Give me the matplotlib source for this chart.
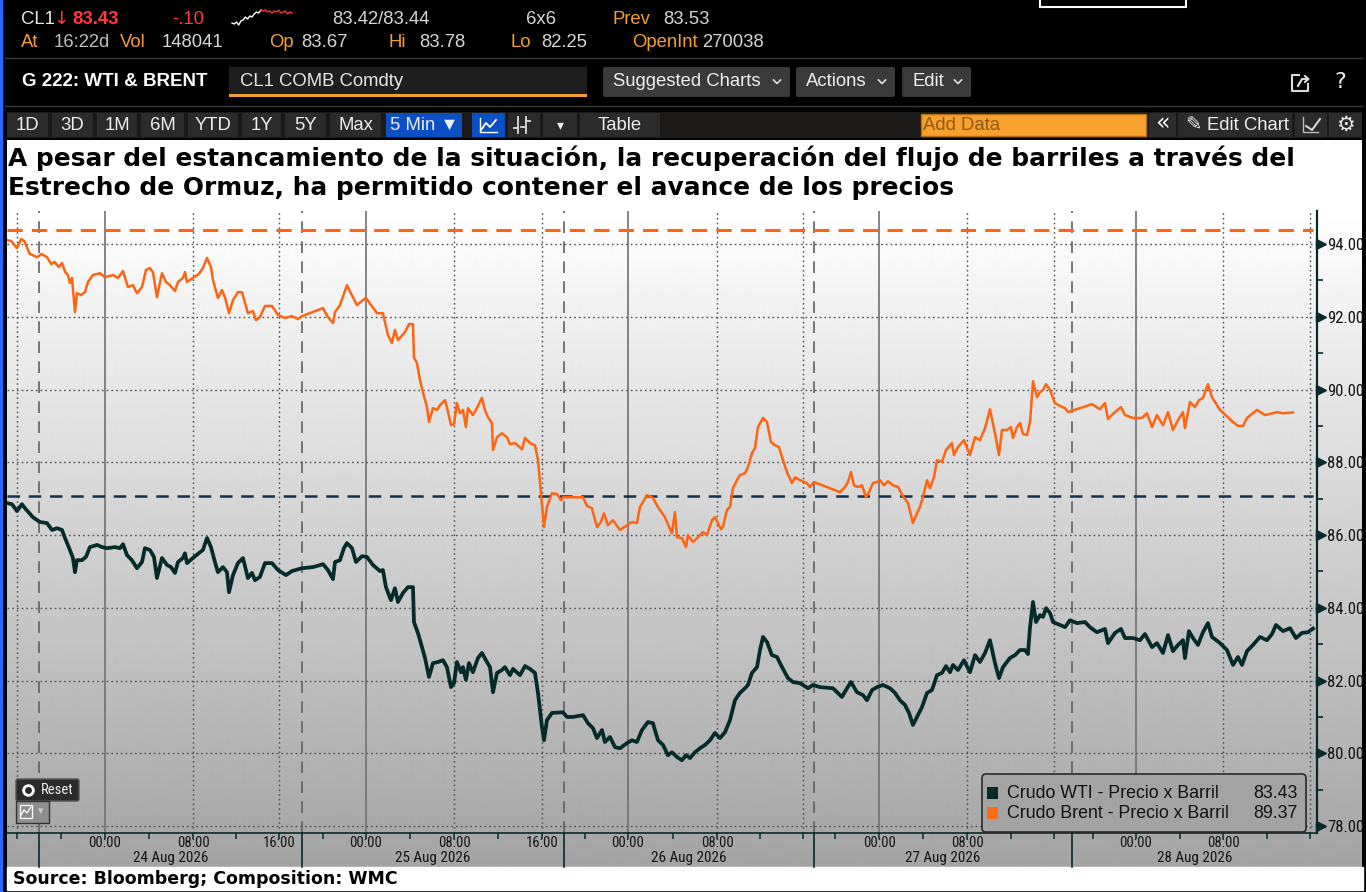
import numpy as np
import matplotlib
matplotlib.use('Agg')
import matplotlib.pyplot as plt
from matplotlib import font_manager as fm
from matplotlib.patches import Rectangle, FancyBboxPatch
import matplotlib.transforms as mtransforms

# ---------------- DATA ----------------
# x = position on the trading-time axis, in hours from 24 Aug 2026 00:00
brent = [(-9.1, 94.11), (-8.7, 94.08), (-8.2, 93.89), (-7.8, 94.14), (-7.5, 94.08), (-7.0, 93.73), (-6.3, 93.64),
         (-5.9, 93.73), (-5.4, 93.64), (-5.0, 93.45), (-4.7, 93.51), (-4.3, 93.37), (-4.0, 93.48), (-3.7, 93.23),
         (-3.45, 93.15), (-3.26, 92.93), (-3.07, 93.07), (-2.79, 92.13), (-2.61, 92.65), (-2.23, 92.60), (-1.86, 92.68),
         (-1.58, 92.96), (-1.12, 93.15), (-0.47, 93.20), (0.0, 93.09), (0.74, 93.15), (1.21, 93.07), (1.68, 93.26),
         (2.14, 92.82), (2.61, 92.87), (2.98, 92.65), (3.45, 92.82), (3.82, 93.29), (4.19, 93.34), (4.47, 93.23),
         (4.84, 92.54), (5.31, 93.20), (5.68, 92.96), (6.05, 92.87), (6.52, 92.71), (6.80, 92.96), (7.26, 93.07),
         (7.45, 93.23), (7.64, 92.96), (8.19, 93.07), (8.75, 93.18), (9.12, 93.34), (9.50, 93.62), (9.87, 93.37),
         (10.06, 93.01), (10.52, 92.52), (10.89, 92.74), (11.17, 92.54), (11.55, 92.10), (11.92, 92.46), (12.38, 92.68),
         (12.76, 92.68), (13.31, 92.10), (13.78, 92.16), (14.06, 91.91), (14.43, 91.99), (14.90, 92.30), (15.55, 92.30),
         (16.11, 92.05), (16.76, 91.97), (17.41, 92.02), (17.97, 91.94), (18.34, 92.02), (20.30, 92.24), (20.76, 91.99),
         (21.23, 91.83), (21.42, 92.13), (21.88, 92.32), (22.53, 92.87), (23.46, 92.32), (24.02, 92.46), (24.30, 92.52),
         (25.33, 92.10), (25.88, 92.10), (26.35, 91.50), (26.72, 91.28), (27.00, 91.64), (27.28, 91.36), (27.93, 91.58),
         (28.31, 91.80), (28.68, 91.80), (28.77, 90.89), (29.05, 90.73), (29.33, 90.26), (29.61, 89.93), (29.98, 89.52),
         (30.17, 89.11), (30.54, 89.49), (30.91, 89.44), (31.19, 89.57), (31.66, 89.71), (31.84, 89.52), (32.22, 89.02),
         (32.50, 89.05), (32.77, 89.63), (33.05, 89.35), (33.33, 89.44), (33.61, 88.97), (33.80, 89.49), (34.26, 89.30),
         (34.64, 89.49), (35.10, 89.77), (35.38, 89.44), (35.66, 89.24), (36.03, 89.08), (36.13, 88.34), (36.50, 88.69),
         (36.96, 88.80), (37.43, 88.69), (37.71, 88.50), (38.18, 88.53), (38.83, 88.36), (39.11, 88.67), (39.57, 88.53),
         (40.04, 88.47), (40.32, 88.06), (40.60, 87.15), (40.88, 86.22), (41.15, 86.77), (41.62, 87.15), (42.09, 87.13),
         (42.46, 86.96), (42.64, 87.04), (44.51, 87.04), (44.88, 86.80), (45.34, 86.74), (45.81, 86.22), (46.18, 86.36),
         (46.46, 86.60), (46.83, 86.27), (47.30, 86.41), (47.95, 86.14), (48.60, 86.27), (49.07, 86.36), (49.53, 86.33),
         (49.81, 86.77), (50.47, 87.10), (51.02, 87.02), (51.49, 86.77), (52.14, 86.49), (52.79, 86.05), (53.07, 86.63),
         (53.26, 85.94), (53.72, 85.92), (54.10, 85.67), (54.28, 86.00), (54.75, 85.81), (55.21, 85.94), (55.68, 86.08),
         (56.05, 86.00), (56.52, 86.41), (56.80, 86.49), (57.36, 86.16), (57.54, 86.22), (57.91, 86.69), (58.19, 86.77),
         (58.47, 87.29), (58.85, 87.51), (59.12, 87.65), (59.59, 87.70), (59.87, 87.87), (60.24, 88.25), (60.52, 88.39),
         (60.80, 88.97), (61.27, 89.22), (61.64, 89.11), (62.01, 88.56), (62.38, 88.47), (62.76, 88.42), (63.13, 88.06),
         (63.50, 87.73), (63.97, 87.43), (64.25, 87.59), (64.71, 87.51), (65.36, 87.43), (65.64, 87.32), (66.01, 87.46),
         (68.44, 87.18), (68.90, 87.32), (69.18, 87.46), (69.46, 87.73), (69.74, 87.37), (70.11, 87.32), (70.48, 87.37),
         (70.86, 87.04), (71.14, 87.18), (71.51, 87.43), (71.88, 87.46), (72.16, 87.51), (72.53, 87.37), (72.91, 87.48),
         (73.37, 87.37), (73.84, 87.32), (74.30, 87.07), (74.77, 86.88), (75.23, 86.33), (75.61, 86.60), (75.88, 86.77),
         (76.16, 87.04), (76.54, 87.51), (76.82, 87.29), (77.19, 87.59), (77.47, 88.06), (77.93, 88.01), (78.31, 88.34),
         (78.86, 88.53), (79.05, 88.20), (79.42, 88.42), (79.98, 88.61), (80.54, 88.20), (81.01, 88.69), (81.47, 88.61),
         (81.94, 88.94), (82.40, 89.46), (82.87, 88.80), (83.24, 88.20), (83.52, 88.89), (83.99, 88.89), (84.36, 88.97),
         (84.54, 88.67), (84.92, 88.97), (85.20, 89.08), (85.47, 88.78), (85.85, 88.75), (86.13, 89.11), (86.41, 90.23),
         (86.78, 89.79), (87.06, 89.93), (87.34, 89.99), (87.62, 90.15), (87.99, 89.99), (88.45, 89.63), (88.92, 89.55),
         (89.39, 89.49), (89.67, 89.38), (91.90, 89.60), (92.64, 89.46), (93.11, 89.63), (93.39, 89.19), (93.85, 89.33),
         (94.60, 89.52), (94.97, 89.30), (95.72, 89.22), (96.55, 89.22), (97.02, 89.35), (97.49, 88.97), (97.95, 89.30),
         (98.51, 89.02), (98.98, 89.38), (99.44, 88.89), (99.91, 89.16), (100.37, 89.38), (100.56, 88.94), (101.02, 89.66),
         (101.49, 89.52), (101.86, 89.71), (102.23, 89.77), (102.70, 90.15), (103.07, 89.79), (103.82, 89.44),
         (104.56, 89.24), (105.03, 89.11), (105.49, 89.00), (105.96, 89.00), (106.33, 89.22), (107.26, 89.44),
         (108.01, 89.30), (109.12, 89.38), (109.68, 89.35), (110.61, 89.37)]

wti = [(-9.12, 86.88), (-8.66, 86.85), (-8.19, 86.66), (-7.73, 86.85), (-7.45, 86.74), (-6.70, 86.49), (-6.05, 86.36),
       (-5.40, 86.33), (-4.93, 86.14), (-4.47, 86.19), (-4.00, 86.14), (-3.72, 85.92), (-3.26, 85.59), (-2.98, 85.37),
       (-2.79, 84.98), (-2.61, 85.31), (-2.14, 85.31), (-1.77, 85.40), (-1.40, 85.67), (-0.74, 85.73), (-0.28, 85.67),
       (0.19, 85.64), (0.93, 85.67), (1.40, 85.64), (1.68, 85.75), (2.05, 85.45), (2.51, 85.31), (2.98, 85.09),
       (3.45, 85.26), (3.72, 85.64), (4.19, 85.59), (4.56, 85.40), (4.84, 84.82), (5.31, 85.37), (5.77, 85.18),
       (6.15, 85.12), (6.52, 84.96), (6.80, 85.26), (7.26, 85.37), (7.45, 85.50), (7.64, 85.23), (8.19, 85.37),
       (8.85, 85.53), (9.12, 85.59), (9.50, 85.92), (9.87, 85.67), (10.24, 85.26), (10.52, 84.98), (10.99, 85.12),
       (11.36, 84.98), (11.55, 84.43), (11.92, 84.90), (12.38, 85.23), (12.85, 85.37), (13.31, 84.82), (13.69, 84.96),
       (13.97, 84.76), (14.43, 84.85), (14.90, 85.23), (15.55, 85.23), (16.11, 85.04), (16.85, 84.90), (17.41, 85.01),
       (18.34, 85.09), (19.37, 85.12), (20.30, 85.20), (20.76, 85.04), (21.23, 84.79), (21.42, 85.26), (21.88, 85.31),
       (22.25, 85.64), (22.53, 85.78), (23.00, 85.64), (23.37, 85.26), (23.93, 85.42), (24.39, 85.40), (24.95, 85.18),
       (25.61, 85.01), (25.88, 85.04), (26.16, 84.57), (26.63, 84.21), (27.00, 84.54), (27.28, 84.16), (27.75, 84.41),
       (28.21, 84.57), (28.68, 84.57), (28.77, 83.61), (29.14, 83.31), (29.52, 82.92), (29.80, 82.62), (30.17, 82.10),
       (30.54, 82.48), (31.01, 82.51), (31.47, 82.56), (31.84, 82.37), (32.22, 81.82), (32.50, 81.93), (32.77, 82.51),
       (33.15, 82.23), (33.33, 82.37), (33.61, 82.02), (33.89, 82.48), (34.26, 82.23), (34.73, 82.62), (35.10, 82.76),
       (35.47, 82.56), (35.85, 82.37), (36.13, 81.68), (36.50, 82.21), (36.96, 82.29), (37.24, 82.37), (37.71, 82.15),
       (37.99, 82.32), (38.64, 82.15), (39.11, 82.40), (39.57, 82.32), (40.04, 82.21), (40.32, 81.66), (40.69, 80.72),
       (40.88, 80.36), (41.15, 80.91), (41.62, 81.11), (42.64, 81.13), (43.02, 81.00), (43.58, 81.00), (44.51, 81.05),
       (44.97, 80.83), (45.44, 80.69), (45.81, 80.42), (46.28, 80.64), (46.55, 80.31), (47.02, 80.45), (47.49, 80.17),
       (47.95, 80.14), (48.60, 80.28), (49.07, 80.36), (49.53, 80.31), (50.00, 80.64), (50.56, 80.86), (51.02, 80.83),
       (51.49, 80.36), (51.96, 80.23), (52.42, 79.95), (52.79, 80.03), (53.26, 79.90), (53.72, 79.81), (54.10, 79.95),
       (54.47, 79.87), (54.93, 80.03), (55.40, 80.14), (55.87, 80.23), (56.33, 80.36), (56.80, 80.56), (57.26, 80.42),
       (57.73, 80.58), (58.19, 80.91), (58.66, 81.46), (59.12, 81.66), (59.59, 81.79), (59.87, 81.88), (60.24, 82.21),
       (60.71, 82.37), (60.99, 82.84), (61.27, 83.20), (61.64, 83.06), (62.10, 82.70), (62.57, 82.65), (63.04, 82.37),
       (63.59, 82.07), (64.06, 81.96), (64.71, 81.93), (65.46, 81.79), (65.92, 81.88), (66.57, 81.82), (67.78, 81.79),
       (68.62, 81.55), (69.09, 81.79), (69.46, 81.96), (70.02, 81.68), (70.58, 81.60), (70.95, 81.46), (71.42, 81.74),
       (71.88, 81.82), (72.44, 81.88), (73.09, 81.79), (73.56, 81.66), (74.02, 81.46), (74.49, 81.33), (74.86, 81.11),
       (75.23, 80.78), (75.61, 81.00), (76.07, 81.27), (76.54, 81.66), (77.00, 81.74), (77.47, 82.15), (77.93, 82.21),
       (78.31, 82.40), (78.68, 82.23), (78.96, 82.43), (79.42, 82.29), (79.98, 82.56), (80.54, 82.23), (81.01, 82.70),
       (81.47, 82.51), (81.94, 82.76), (82.40, 83.11), (82.87, 82.48), (83.24, 82.07), (83.61, 82.37), (84.26, 82.62),
       (84.73, 82.70), (85.20, 82.84), (85.66, 82.84), (85.94, 82.73), (86.13, 83.47), (86.41, 84.16), (86.69, 83.61),
       (87.06, 83.80), (87.34, 83.75), (87.62, 83.99), (87.99, 83.86), (88.27, 83.61), (88.92, 83.53), (89.39, 83.47),
       (89.85, 83.66), (90.50, 83.58), (91.25, 83.61), (91.71, 83.47), (92.36, 83.33), (93.11, 83.42), (93.39, 83.03),
       (94.04, 83.31), (94.60, 83.42), (94.97, 83.17), (95.72, 83.17), (96.37, 83.11), (96.83, 83.28), (97.49, 82.92),
       (97.95, 83.03), (98.51, 82.76), (98.98, 83.25), (99.44, 82.81), (99.91, 82.98), (100.37, 83.11), (100.56, 82.62),
       (100.93, 83.36), (101.30, 83.17), (101.77, 82.98), (102.23, 83.33), (102.70, 83.58), (103.07, 83.20),
       (103.82, 83.03), (104.47, 82.84), (105.03, 82.43), (105.49, 82.65), (105.87, 82.43), (106.33, 82.81),
       (106.89, 82.98), (107.54, 83.20), (108.19, 83.11), (108.66, 83.28), (109.03, 83.53), (109.68, 83.36),
       (110.34, 83.44), (110.89, 83.17), (111.45, 83.31), (112.01, 83.33), (112.48, 83.43)]

brent_t = [p[0] for p in brent]
brent_v = [p[1] for p in brent]
wti_t = [p[0] for p in wti]
wti_v = [p[1] for p in wti]

brent_ref = 94.38
wti_ref = 87.07

series_names = ["Crudo WTI - Precio x Barril", "Crudo Brent - Precio x Barril"]
last_values = ["83.43", "89.37"]

y_ticks = [78, 80, 82, 84, 86, 88, 90, 92, 94]
y_minor = [79, 81, 83, 85, 87, 89, 91, 93]

# axis positions (trading-time hours) of day marks
midnights = [0.0, 24.3, 48.7, 72.1, 96.0]            # 00:00 of 24..28 Aug
eights = [8.24, 32.5, 57.0, 80.3, 104.1]              # 08:00
sixteens = [-8.19, 16.2, 40.7, 65.0, 88.4, 112.2]     # 16:00 (23..28 Aug)
sessions = [-6.1, 18.34, 42.7, 66.0, 90.0]            # 18:00 session starts
day_labels = ["24 Aug 2026", "25 Aug 2026", "26 Aug 2026", "27 Aug 2026", "28 Aug 2026"]
labeled_16 = [16.2, 40.7]

title_lines = ["A pesar del estancamiento de la situación, la recuperación del flujo de barriles a través del",
               "Estrecho de Ormuz, ha permitido contener el avance de los precios"]
source_text = "Source: Bloomberg; Composition: WMC"

spark = [6, 5, 7, 4, 8, 9, 12, 10, 13, 12, 15, 17, 16, 19, 18, 19, 17, 18, 16, 18, 17, 19, 16, 17, 18, 15, 17, 16]

# ---------------- FONTS ----------------
avail = {f.name for f in fm.fontManager.ttflist}
NARROW = next((f for f in ['Liberation Sans Narrow', 'Roboto Condensed', 'Open Sans Condensed', 'Liberation Sans']
               if f in avail), 'DejaVu Sans')
REGULAR = next((f for f in ['Liberation Sans', 'Roboto', 'Noto Sans'] if f in avail), 'DejaVu Sans')
NF = [NARROW, 'DejaVu Sans']
RF = [REGULAR, 'DejaVu Sans']
BOLDF = ['DejaVu Sans']

W, H = 1366, 892
fig = plt.figure(figsize=(W / 100, H / 100), dpi=100, facecolor='black')

# ---------------- background ----------------
bg = fig.add_axes([0, 0, 1, 1], zorder=0)
bg.axis('off')
y0, y1 = 140, 867
ys = np.arange(y0, y1)
g = np.where(ys < 212, 1.0, 1.0 - 0.36 * (ys - 212) / (867 - 212))
img = np.repeat(g[:, None], 2, axis=1)
bg.imshow(img, cmap='gray', vmin=0, vmax=1, extent=[7, 1362, y1, y0], aspect='auto',
          interpolation='bilinear', origin='upper', zorder=1)
bg.set_xlim(0, W)
bg.set_ylim(H, 0)
bg.add_patch(Rectangle((0, 0), W, H, color='black', zorder=0))
bg.add_patch(Rectangle((7, 867), 1356, 23, color='white', zorder=2))
bg.add_patch(Rectangle((0, 0), 2, H, color='#2a66ff', zorder=2))
bg.text(13, 879.5, source_text, fontfamily=BOLDF, fontweight='bold', fontsize=12.5, va='center', color='black', zorder=3)
for i, line in enumerate(title_lines):
    bg.text(8, 158 + 30 * i, line, fontfamily=BOLDF, fontweight='bold', fontsize=17.9, va='center',
            color='black', zorder=3)

# ---------------- main chart ----------------
ax = fig.add_axes([7 / W, (H - 833) / H, 1310 / W, 622 / H], zorder=2)
ax.patch.set_alpha(0)
ax.set_xlim(-9.12, 112.85)
ax.set_ylim(77.81, 94.91)

dark = '#062a2a'
for s in ['top', 'left']:
    ax.spines[s].set_visible(False)
ax.spines['right'].set_color(dark)
ax.spines['right'].set_linewidth(1.6)
ax.spines['bottom'].set_color(dark)
ax.spines['bottom'].set_linewidth(1.2)

# horizontal grid
ax.set_yticks(y_ticks)
ax.set_yticks(y_minor, minor=True)
for v in y_ticks:
    ax.axhline(v, color='#505050', lw=1, ls=(0, (1.2, 2.2)), zorder=1)
# vertical grid
for m in midnights:
    ax.axvline(m, color='#707070', lw=1.2, zorder=1)
for m in eights + sixteens:
    ax.axvline(m, color='#505050', lw=1, ls=(0, (1.2, 2.2)), zorder=1)
for m in sessions:
    ax.axvline(m, color='#606060', lw=1.2, ls=(0, (7, 5)), zorder=1)

# reference lines
ax.axhline(brent_ref, xmax=(1313 - 7) / 1310, color='#ff6410', lw=2.2, ls=(0, (5, 3)), zorder=3)
ax.axhline(wti_ref, xmax=(1313 - 7) / 1310, color='#15304d', lw=1.8, ls=(0, (5, 3.5)), zorder=3)

# series
ax.plot(wti_t, wti_v, color='#042a2a', lw=2.7, zorder=4, solid_joinstyle='round')
ax.plot(brent_t, brent_v, color='#ff6410', lw=1.8, zorder=5, solid_joinstyle='round')

# y axis on the right
ax.yaxis.tick_right()
ax.tick_params(axis='y', which='major', length=0, pad=7.5, labelsize=12, labelcolor='#141414')
ax.tick_params(axis='y', which='minor', length=4, width=1.2, color=dark, direction='out')
ax.set_yticklabels([f"{v:.2f}" for v in y_ticks], fontfamily=NF)
tri = mtransforms.blended_transform_factory(ax.transAxes, ax.transData) + \
    mtransforms.ScaledTranslation(3.5 / 100, 0, fig.dpi_scale_trans)
ax.plot([1.0] * len(y_ticks), y_ticks, ls='none', marker='>', ms=6.5, color=dark, transform=tri,
        clip_on=False, zorder=6)

# x axis
xt = []
for a0, a8, a16 in zip(midnights, eights, sixteens[1:]):
    xt += [a0, (a0 + a8) / 2, a8, (a8 + a16) / 2, a16]
xt += [sixteens[0]] + [s + 2 for s in sessions]
ax.set_xticks(sorted(xt))
ax.tick_params(axis='x', length=4, width=1.1, color=dark, labelbottom=False, direction='out')
blend = mtransforms.blended_transform_factory(ax.transData, ax.transAxes)
for m in midnights:
    ax.text(m, -0.0165, "00:00", transform=blend, ha='center', va='center', fontsize=10.5,
            fontfamily=NF, color='#141414')
for m in eights:
    ax.text(m, -0.0165, "08:00", transform=blend, ha='center', va='center', fontsize=10.5,
            fontfamily=NF, color='#141414')
for m in labeled_16:
    ax.text(m, -0.0165, "16:00", transform=blend, ha='center', va='center', fontsize=10.5,
            fontfamily=NF, color='#141414')
bounds = sessions + [ax.get_xlim()[1]]
for i, lab in enumerate(day_labels):
    ax.text((bounds[i] + bounds[i + 1]) / 2, -0.0405, lab, transform=blend, ha='center', va='center',
            fontsize=10.8, fontfamily=NF, color='#141414')
for s in sessions:
    ax.plot([s, s], [0, -0.0547], transform=blend, clip_on=False, color=dark, lw=1.2, zorder=6)

# ---------------- overlay (terminal chrome) ----------------
ov = fig.add_axes([0, 0, 1, 1], zorder=3)
ov.set_xlim(0, W)
ov.set_ylim(H, 0)
ov.axis('off')
ov.patch.set_alpha(0)

def T(x, y, s, c='#e6e6e6', size=13.3, bold=False, ha='left', fam=None):
    ov.text(x, y, s, color=c, fontsize=size, fontweight='bold' if bold else 'normal', ha=ha, va='center',
            fontfamily=fam or RF)

ORG = '#f5a030'
RED = '#ff3838'
WHT = '#e8e8e8'
# row 1
T(21, 19, 'CL1', WHT)
T(53, 19, '↓', RED, fam=['DejaVu Sans'])
T(72, 19, '83.43', RED, bold=True)
T(172, 19, '-.10', RED)
sx = np.linspace(232, 292, len(spark))
sy = [29 - v for v in spark]
ov.plot(sx[:14], sy[:14], color='white', lw=1)
ov.plot(sx[13:], sy[13:], color='#ff3030', lw=1)
T(332, 19, '83.42/83.44', '#d6d6d6')
T(526, 19, '6x6', '#d6d6d6')
T(612, 19, 'Prev', ORG)
T(663, 19, '83.53', '#d6d6d6')
# row 2
for x, s, c in [(21, 'At', ORG), (54, '16:22d', '#bdbdbd'), (120, 'Vol', ORG), (162, '148041', '#d6d6d6'),
                (269, 'Op', ORG), (301, '83.67', '#d6d6d6'), (389, 'Hi', ORG), (419, '83.78', '#d6d6d6'),
                (510, 'Lo', ORG), (541, '82.25', '#d6d6d6'), (632, 'OpenInt', ORG), (702, '270038', '#d6d6d6')]:
    T(x, 42.5, s, c)
ov.add_patch(Rectangle((1040, -6), 146, 13, fc='black', ec='white', lw=1.5))
ov.plot([5, 1362], [57.5, 57.5], color='#3a3a3a', lw=1)
ov.plot([5, 1362], [106, 106], color='#3a3a3a', lw=1)

# row: chart title bar
T(22, 82, 'G 222: WTI & BRENT', 'white', bold=True, size=13.5)
ov.add_patch(Rectangle((229, 67), 358, 29, fc='#1e1e1e'))
ov.add_patch(Rectangle((229, 94), 358, 3, fc='#f0a030'))
T(240, 81, 'CL1 COMB Comdty', '#e6e6e6')

def chevron(x, y):
    ov.plot([x - 3.5, x, x + 3.5], [y - 2, y + 1.5, y - 2], color='#dddddd', lw=1.2)

for x0, w, lab in [(603, 187, 'Suggested Charts'), (796, 99, 'Actions'), (902, 69, 'Edit')]:
    ov.add_patch(FancyBboxPatch((x0, 67), w, 30, boxstyle='round,pad=0,rounding_size=2', fc='#3a3a3a', ec='none'))
    T(x0 + 10, 82, lab, '#eeeeee')
    chevron(x0 + w - 13, 82)
# share icon and help
ov.plot([1299, 1292, 1292, 1308, 1308], [75, 75, 91, 91, 84], color='#dddddd', lw=1.5)
ov.plot([1298, 1302, 1308], [86, 79, 79], color='#dddddd', lw=1.5)
ov.plot([1305, 1308.5, 1305], [76, 79, 82], color='#dddddd', lw=1.5)
T(1340, 82, '?', '#eeeeee', size=16, ha='center', fam=['DejaVu Sans'])

# toolbar
ov.add_patch(Rectangle((7, 112), 1355, 26, fc='#1b1a18'))
btns = [(7, 48, '1D'), (52, 93, '3D'), (97, 137, '1M'), (141, 184, '6M'), (188, 238, 'YTD'), (242, 281, '1Y'),
        (285, 326, '5Y'), (330, 381, 'Max'), (386, 462, '5 Min ▼'), (472, 505, ''), (508, 540, ''),
        (543, 577, '▾'), (580, 660, 'Table'), (1149, 1176, '«'), (1178, 1292, 'Edit Chart'),
        (1295, 1327, ''), (1329, 1362, '')]
for x0, x1, lab in btns:
    fc = '#0b4fc4' if lab == '5 Min ▼' or x0 == 472 else '#2b2b2b'
    ov.add_patch(Rectangle((x0, 113), x1 - x0, 24, fc=fc))
    if lab == 'Edit Chart':
        T(x0 + 29, 125, lab, '#eeeeee')
        T(x0 + 15, 125, '✎', '#eeeeee', size=14, ha='center', fam=['DejaVu Sans'])
    elif lab == '«':
        T((x0 + x1) / 2, 124, lab, '#eeeeee', ha='center', size=17, fam=['DejaVu Sans'])
    elif lab == '▾':
        T((x0 + x1) / 2, 125, lab, '#eeeeee', ha='center', size=10, fam=['DejaVu Sans'])
    elif lab:
        T((x0 + x1) / 2, 125, lab, '#eeeeee', ha='center', fam=RF)
# line chart icon
ov.plot([480, 480, 497], [118, 132, 132], color='white', lw=1)
ov.plot([481, 486, 490, 496], [130, 123, 127, 120], color='white', lw=1.3)
# candle icon
ov.plot([518, 518], [117, 133], color='#dddddd', lw=1.3)
ov.plot([514, 518], [128, 128], color='#dddddd', lw=1.3)
ov.plot([526, 526], [117, 133], color='#dddddd', lw=1.3)
ov.plot([526, 530], [121, 121], color='#dddddd', lw=1.3)
ov.plot([521, 526], [127, 127], color='#dddddd', lw=1.3)
# add data
ov.add_patch(Rectangle((921, 114), 225, 22, fc='#f7a12e', ec='#b86c10', lw=1))
T(923, 125, 'Add Data', '#8b5a14')
# small icons right
ov.plot([1303, 1303, 1318], [117, 132, 132], color='#bbbbbb', lw=1)
ov.plot([1306, 1312, 1320], [126, 130, 119], color='#dddddd', lw=1.4)
T(1345.5, 125, '⚙', '#e6e6e6', size=15, ha='center', fam=['DejaVu Sans'])

# reset / chart type buttons
ov.add_patch(FancyBboxPatch((16, 779), 63, 22, boxstyle='round,pad=0,rounding_size=2', fc='#2b2b2b', ec='#555555'))
ov.plot([28], [790], marker='o', ms=7, mfc='#2b2b2b', mec='white', mew=2)
T(41, 789.5, 'Reset', '#eeeeee', size=10.5, fam=NF)
ov.add_patch(Rectangle((16, 801), 33, 22, fc='#8e8e8e', ec='#333333', lw=1))
ov.add_patch(Rectangle((20, 805), 12, 13, fc='none', ec='white', lw=0.9))
ov.plot([21, 24, 27, 31], [815, 810, 813, 807], color='white', lw=0.9)
T(41, 811.5, '▾', '#cccccc', size=8, ha='center', fam=['DejaVu Sans'])

# legend
ov.add_patch(FancyBboxPatch((982, 774), 324, 58, boxstyle='round,pad=0,rounding_size=4',
                            fc='#a3a3a3', ec='#2a2a2a', lw=1.2))
colors = ['#062a2a', '#ff6a13']
for i, (nm, val, col) in enumerate(zip(series_names, last_values, colors)):
    yy = 793 + 20 * i
    ov.add_patch(Rectangle((987, yy - 6), 11, 12, fc=col))
    T(1007, yy, nm, '#121212', size=12.8)
    T(1298, yy, val, '#121212', size=12.8, ha='right')

fig.savefig('out.png', dpi=100, facecolor='black')
